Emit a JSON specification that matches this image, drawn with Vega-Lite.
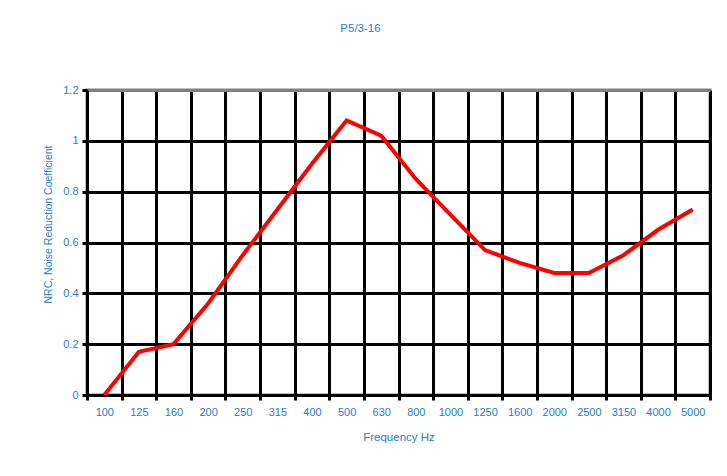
{
  "$schema": "https://vega.github.io/schema/vega-lite/v6.json",
  "width": 623,
  "height": 305,
  "autosize": {"type": "none"},
  "padding": {"left": 87, "top": 90, "right": 17, "bottom": 81},
  "background": "white",
  "title": {"text": "P5/3-16", "color": "#2a7bcc", "font": "Liberation Sans", "fontSize": 11.5, "fontWeight": "normal", "offset": 50, "anchor": "middle", "dx": -38},
  "data": {"values": [
    {"freq": "100", "nrc": 0.0},
    {"freq": "125", "nrc": 0.17},
    {"freq": "160", "nrc": 0.2},
    {"freq": "200", "nrc": 0.36},
    {"freq": "250", "nrc": 0.55},
    {"freq": "315", "nrc": 0.73},
    {"freq": "400", "nrc": 0.91},
    {"freq": "500", "nrc": 1.08},
    {"freq": "630", "nrc": 1.02},
    {"freq": "800", "nrc": 0.85},
    {"freq": "1000", "nrc": 0.71},
    {"freq": "1250", "nrc": 0.57},
    {"freq": "1600", "nrc": 0.52},
    {"freq": "2000", "nrc": 0.48},
    {"freq": "2500", "nrc": 0.48},
    {"freq": "3150", "nrc": 0.55},
    {"freq": "4000", "nrc": 0.65},
    {"freq": "5000", "nrc": 0.73}
  ]},
  "mark": {"type": "line", "color": "#ff0000", "strokeWidth": 4},
  "encoding": {
    "x": {
      "field": "freq", "type": "ordinal", "sort": null,
      "scale": {"paddingInner": 0, "paddingOuter": 0},
      "axis": {
        "title": "Frequency Hz", "titleColor": "#2a7bcc", "titleFont": "Liberation Sans", "titleFontSize": 11.5, "titleFontWeight": "normal", "titlePadding": 14,
        "labelColor": "#2a7bcc", "labelFont": "Liberation Sans", "labelFontSize": 11, "labelAngle": 0, "labelPadding": 6,
        "domainColor": "black", "domainWidth": 3,
        "tickColor": "black", "tickWidth": 3, "tickSize": 5, "tickBand": "extent",
        "grid": true, "gridColor": "black", "gridWidth": 3
      }
    },
    "y": {
      "field": "nrc", "type": "quantitative",
      "scale": {"domain": [0, 1.2], "nice": false, "zero": true},
      "axis": {
        "values": [0, 0.2, 0.4, 0.6, 0.8, 1, 1.2], "format": "~g",
        "title": "NRC, Noise Reduction Coefficient",
        "titleAngle": 270, "titleX": -39, "titleY": 134, "titleAlign": "center", "titleBaseline": "middle",
        "titleColor": "#2a7bcc", "titleFont": "Liberation Sans", "titleFontSize": 10.5, "titleFontWeight": "normal",
        "labelColor": "#2a7bcc", "labelFont": "Liberation Sans", "labelFontSize": 11, "labelPadding": 4,
        "domainColor": "black", "domainWidth": 3,
        "tickColor": "black", "tickWidth": 3, "tickSize": 5,
        "grid": true, "gridWidth": 3,
        "gridColor": {"condition": {"test": "datum.value >= 1.19", "value": "#808080"}, "value": "black"}
      }
    }
  },
  "config": {"view": {"stroke": "#808080", "strokeWidth": 3}}
}
